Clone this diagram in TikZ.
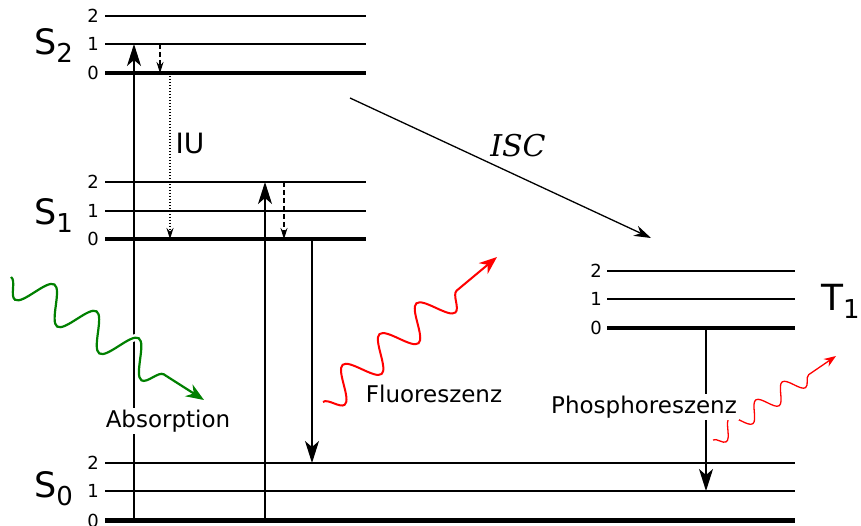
\documentclass[tikz,border=0pt]{standalone}
\usepackage{fontspec}
\setmainfont{DejaVu Sans}
\newfontfamily\jabserif{DejaVu Serif}
\usetikzlibrary{
arrows.meta,
positioning,
decorations.pathmorphing
}
\definecolor{JabGreen}{HTML}{008000}
\definecolor{JabRed}{HTML}{FF0000}
\tikzset{
jablevel/.style={line width=1.2pt},
jabzero/.style={line width=3.8pt},
jabnum/.style={inner sep=0pt, font=\fontsize{18}{18}\selectfont},
jabstate/.style={inner sep=0pt, anchor=base west, font=\fontsize{35}{35}\selectfont},
jablabel/.style={inner sep=2pt, anchor=base, font=\fontsize{23}{23}\selectfont},
jabarrow/.style={-{Stealth[length=22pt, width=14pt, inset=6pt]}, line width=1.3pt},
jabdashed/.style={-{Stealth[length=11pt, width=7pt]}, line width=1.2pt, dash pattern=on 5pt off 3pt},
jabdotted/.style={-{Stealth[length=11pt, width=7pt]}, line width=1.4pt, dash pattern=on 1.4pt off 1.6pt},
jabisc/.style={-{Stealth[length=17pt, width=11pt]}, line width=1.3pt},
jabwave/.style={decorate, line width=2.2pt, -{Stealth[length=18pt, width=14pt]},
  preaction={draw=white, line width=7pt, -}}
}
\newcommand{\jabsub}[1]{\raisebox{-8pt}{\fontsize{26}{26}\selectfont #1}}

\begin{document}
\begin{tikzpicture}[x=1pt, y=-1pt]
\useasboundingbox (0,0) rectangle (861,526);

% S2
\draw[jablevel] (105,16) coordinate (s2v2) -- (366,16);
\draw[jablevel] (105,44) coordinate (s2v1) -- (366,44);
\draw[jabzero] (105,73) coordinate (s2v0) -- (366,73);
% S1
\draw[jablevel] (105,182) coordinate (s1v2) -- (366,182);
\draw[jablevel] (105,211) coordinate (s1v1) -- (366,211);
\draw[jabzero] (105,239) coordinate (s1v0) -- (366,239);
% T1
\draw[jablevel] (607,271) coordinate (t1v2) -- (795,271);
\draw[jablevel] (607,299) coordinate (t1v1) -- (795,299);
\draw[jabzero] (607,328) coordinate (t1v0) -- (795,328);
% S0
\draw[jablevel] (105,463) coordinate (s0v2) -- (795,463);
\draw[jablevel] (105,491) coordinate (s0v1) -- (795,491);
\draw[jabzero, line width=5pt] (105,520.5) coordinate (s0v0) -- (795,520.5);

\node[jabnum, left=6pt of s2v2] (ns2v2) {2};
\node[jabnum, left=6pt of s2v1] (ns2v1) {1};
\node[jabnum, left=6pt of s2v0] (ns2v0) {0};
\node[jabnum, left=6pt of s1v2] (ns1v2) {2};
\node[jabnum, left=6pt of s1v1] (ns1v1) {1};
\node[jabnum, left=6pt of s1v0] (ns1v0) {0};
\node[jabnum, left=5pt of t1v2] (nt1v2) {2};
\node[jabnum, left=5pt of t1v1] (nt1v1) {1};
\node[jabnum, left=5pt of t1v0] (nt1v0) {0};
\node[jabnum, left=6pt of s0v2] (ns0v2) {2};
\node[jabnum, left=6pt of s0v1] (ns0v1) {1};
\node[jabnum, left=6pt of s0v0] (ns0v0) {0};

\node[jabstate] (s2) at (34,55) {S\jabsub{2}};
\node[jabstate] (s1) at (34,225) {S\jabsub{1}};
\node[jabstate] (s0) at (34,497) {S\jabsub{0}};
\node[jabstate, font=\fontsize{36}{36}\selectfont] (t1) at (821,310) {T\jabsub{1}};

% transitions
\coordinate (absfoot) at (134,520);
\coordinate (abshead) at (134,44);
\coordinate (abstwofoot) at (265,520);
\coordinate (abstwohead) at (265,182);
\coordinate (vibtop) at (160,44);
\coordinate (vibbot) at (160,73);
\coordinate (vibtwotop) at (284,182);
\coordinate (vibtwobot) at (284,239);
\coordinate (iutop) at (170,73);
\coordinate (iubot) at (170,239);
\coordinate (fluotop) at (312,239);
\coordinate (fluobot) at (312,463);
\coordinate (phostop) at (706,328);
\coordinate (phosbot) at (706,491);
\coordinate (iscstart) at (350,98);
\coordinate (iscend) at (651,238);

\draw[jabarrow] (absfoot) -- (abshead);
\draw[jabarrow] (abstwofoot) -- (abstwohead);
\draw[jabdashed] (vibtop) -- (vibbot);
\draw[jabdashed] (vibtwotop) -- (vibtwobot);
\draw[jabdotted] (iutop) -- (iubot);
\draw[jabarrow] (fluotop) -- (fluobot);
\draw[jabarrow] (phostop) -- (phosbot);
\draw[jabisc] (iscstart) -- (iscend);

% photons
\coordinate (greenin) at (11,277);
\coordinate (greenout) at (204,400);
\coordinate (redin) at (323,402);
\coordinate (redout) at (497,257);
\coordinate (phin) at (713,440);
\coordinate (phout) at (836,356);

\draw[jabwave, draw=JabGreen, decoration={snake, amplitude=-17pt, segment length=50pt, post length=26pt}] (greenin) -- (greenout);
\draw[jabwave, draw=JabRed, line width=2pt, decoration={snake, amplitude=-16pt, segment length=48pt, post length=30pt}] (redin) -- (redout);
\draw[jabwave, draw=JabRed, line width=1.3pt, -{Stealth[length=12pt, width=9pt]},
  decoration={snake, amplitude=-9pt, segment length=32pt, post length=19pt}] (phin) -- (phout);

\node[jablabel, font=\fontsize{28}{28}\selectfont] (iu) at (190,154) {IU};
\node[jablabel, font=\fontsize{30}{30}\selectfont\jabserif\itshape] (isc) at (518,157) {ISC};
\node[jablabel, fill=white] (absorption) at (168,427) {Absorption};
\node[jablabel] (fluoreszenz) at (434,402) {Fluoreszenz};
\node[jablabel, fill=white] (phosphoreszenz) at (644,413) {Phosphoreszenz};
\end{tikzpicture}
\end{document}
